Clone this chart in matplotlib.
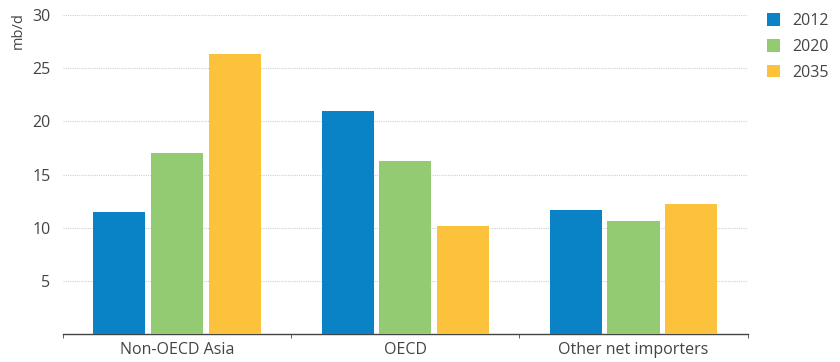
import matplotlib
matplotlib.use("Agg")
import matplotlib.pyplot as plt
import numpy as np

plt.rcParams['font.family'] = ['Open Sans', 'DejaVu Sans']

categories = ["Non-OECD Asia", "OECD", "Other net importers"]
years = ["2012", "2020", "2035"]
v2012 = [11.5, 21.0, 11.7]
v2020 = [17.0, 16.3, 10.6]
v2035 = [26.3, 10.2, 12.2]
colors = ["#0a82c6", "#93cb73", "#fcc23b"]

fig = plt.figure(figsize=(8.4, 3.62), dpi=100)
ax = fig.add_axes([0.075, 0.0773, 0.815, 0.8813])

x = np.arange(len(categories))
w = 0.228
off = 0.253
for i, (vals, lab, c) in enumerate(zip([v2012, v2020, v2035], years, colors)):
    ax.bar(x + (i - 1) * off, vals, width=w, color=c, label=lab, zorder=3)

ax.set_xlim(-0.5, 2.5)
ax.set_ylim(0, 30)
ax.set_yticks([5, 10, 15, 20, 25, 30])
ax.set_xticks(x)
ax.set_xticklabels(categories)
ax.set_xticks([-0.5, 0.5, 1.5, 2.5], minor=True)
ax.tick_params(axis='x', which='major', length=0, labelsize=11.5, colors='#444444', pad=6)
ax.tick_params(axis='x', which='minor', length=3, color='#444444', direction='out')
ax.tick_params(axis='y', length=0, labelsize=11.5, colors='#444444', pad=9)
ax.yaxis.grid(True, linestyle=(0, (1, 1)), color='#d0d0d0', linewidth=0.8, zorder=0)
for s in ['top', 'right', 'left']:
    ax.spines[s].set_visible(False)
ax.spines['bottom'].set_color('#444444')
ax.spines['bottom'].set_linewidth(1.0)

fig.text(0.022, 0.915, "mb/d", rotation=90, ha='center', va='center', fontsize=10.5, color='#444444')

leg = ax.legend(loc='upper left', bbox_to_anchor=(1.028, 1.005), frameon=False,
                borderaxespad=0, borderpad=0,
                fontsize=11.5, handlelength=0.85, handleheight=0.85, labelspacing=0.6,
                handletextpad=0.75, labelcolor='#444444')

fig.savefig("out.png", dpi=100)
